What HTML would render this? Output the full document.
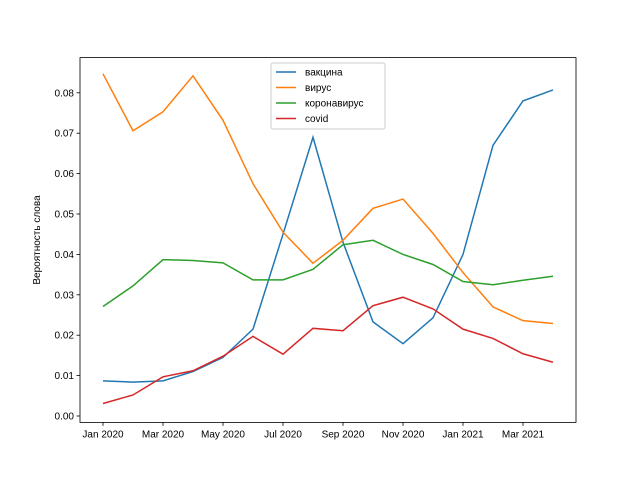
<!DOCTYPE html>
<html><head><meta charset="utf-8"><style>
body{margin:0;background:#fff}
svg text{font-family:"Liberation Sans","DejaVu Sans",sans-serif;font-size:10px;fill:#000}
</style></head><body>
<svg id="chart" width="640" height="480" xmlns="http://www.w3.org/2000/svg"></svg>
<script>
const months = ["Jan 2020","Feb 2020","Mar 2020","Apr 2020","May 2020","Jun 2020","Jul 2020","Aug 2020","Sep 2020","Oct 2020","Nov 2020","Dec 2020","Jan 2021","Feb 2021","Mar 2021","Apr 2021"];
const vaccine = [0.0087,0.0084,0.0087,0.011,0.0145,0.0215,0.045,0.069,0.043,0.0233,0.0179,0.0243,0.040,0.067,0.078,0.0807];
const virus = [0.0847,0.0706,0.0753,0.0842,0.0732,0.0575,0.0455,0.0378,0.0435,0.0514,0.0537,0.0452,0.0355,0.0270,0.0236,0.0229];
const corona = [0.0271,0.0322,0.0387,0.0385,0.0379,0.0337,0.0337,0.0363,0.0424,0.0435,0.0400,0.0375,0.0333,0.0325,0.0336,0.0346];
const covid = [0.0031,0.0052,0.0097,0.0112,0.0148,0.0197,0.0153,0.0217,0.0211,0.0273,0.0294,0.0265,0.0215,0.0192,0.0154,0.0133];
const seriesNames = ["вакцина","вирус","коронавирус","covid"];
const yTicks = [0,0.01,0.02,0.03,0.04,0.05,0.06,0.07,0.08];
const yTickLabels = ["0.00","0.01","0.02","0.03","0.04","0.05","0.06","0.07","0.08"];
const xTickIdx = [0,2,4,6,8,10,12,14];

const NS="http://www.w3.org/2000/svg", svg=document.getElementById('chart');
const L=80,R=576,T=57.6,B=422.4;
const x=i=>103+i*30;
const y=v=>416-v*4040;
function el(t,a,p){const e=document.createElementNS(NS,t);for(const k in a)e.setAttribute(k,a[k]);(p||svg).appendChild(e);return e;}
const colors=["#1f77b4","#ff7f0e","#2ca02c","#d62728"];
const data=[vaccine,virus,corona,covid];
data.forEach((d,s)=>{
  const p=el('polyline',{points:d.map((v,i)=>x(i)+','+y(v)).join(' '),fill:'none',stroke:colors[s],'stroke-width':1.5});
  
  
});
const frame=el('rect',{x:L,y:T,width:R-L,height:B-T,fill:'none',stroke:'#000','stroke-width':0.8});


yTicks.forEach((v,i)=>{
  el('line',{x1:L-3.5,x2:L,y1:y(v),y2:y(v),stroke:'#000','stroke-width':0.8});
  const t=el('text',{x:L-6,y:y(v)+3.5,'text-anchor':'end'});t.textContent=yTickLabels[i];
  
  
});
xTickIdx.forEach(i=>{
  el('line',{x1:x(i),x2:x(i),y1:B,y2:B+3.5,stroke:'#000','stroke-width':0.8});
  const t=el('text',{x:x(i),y:B+15,'text-anchor':'middle'});t.textContent=months[i];
  
  
});
const yl=el('text',{x:0,y:0,'text-anchor':'middle',transform:'translate(40,240) rotate(-90)'});yl.textContent='Вероятность слова';


const lg=el('g',{});


el('rect',{x:271,y:63,width:114,height:66,rx:2,fill:'#fff','fill-opacity':0.8,stroke:'#ccc'},lg);
seriesNames.forEach((n,s)=>{
  const yy=72+s*15.5;
  el('line',{x1:276,x2:296,y1:yy,y2:yy,stroke:colors[s],'stroke-width':1.5},lg);
  const t=el('text',{x:305,y:yy+3.5},lg);t.textContent=n;
  
  
});
</script>
</body></html>
